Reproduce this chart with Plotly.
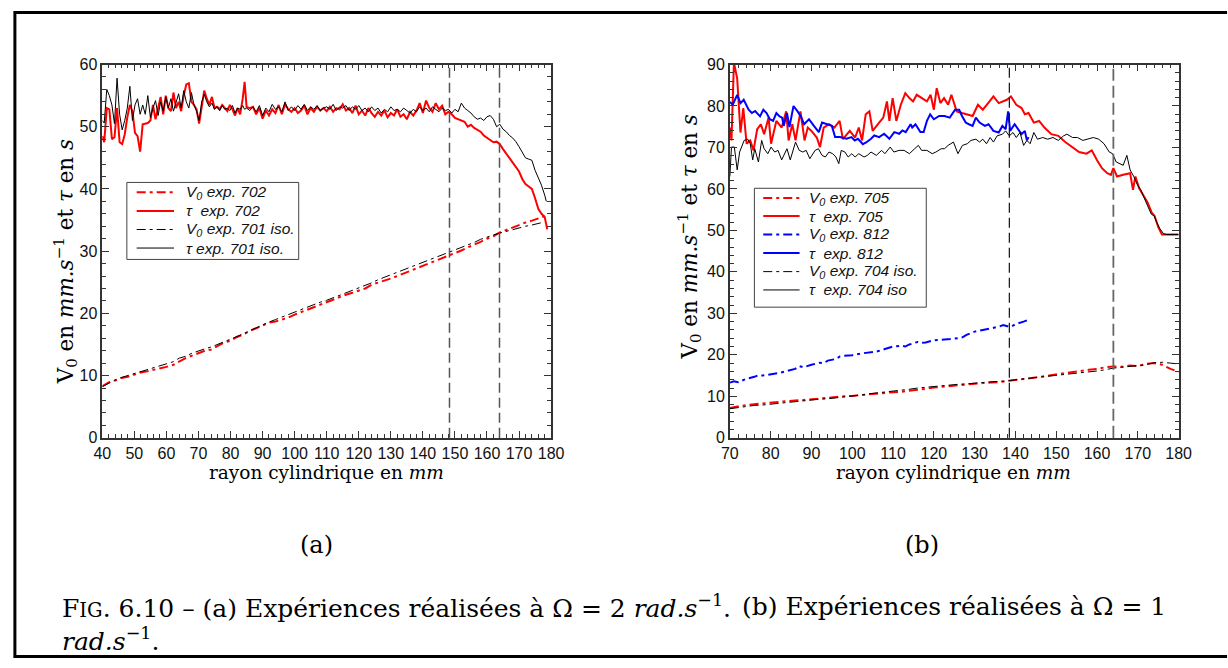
import plotly.graph_objects as go

W, H = 1228, 668

# ---------------- DATA : panel (a) ----------------
a_names = ["V<sub>0</sub> exp. 702", "τ  exp. 702", "V<sub>0</sub> exp. 701 iso.", "τ exp. 701 iso."]

a_tau702_x = [40.0, 40.6, 41.4, 42.2, 43.0, 43.8, 44.6, 45.4, 46.2, 47.0, 47.8, 48.6, 49.4, 50.2, 51.0, 51.8,
              52.6, 53.4, 54.2, 55.0, 55.8, 56.6, 57.4, 58.2, 59.0, 59.8, 60.6, 61.4, 62.2, 63.0, 63.8, 64.6,
              65.4, 66.2, 67.0, 67.8, 68.6, 69.4, 70.2, 71.0, 71.8, 72.6, 73.4, 74.2, 75.0, 75.8, 76.6, 77.4,
              78.2, 79.0, 79.8, 80.6, 81.4, 82.2, 83.0, 83.8, 84.4, 85.0, 86.0, 87.0, 88.0, 89.0, 90.0, 91.0,
              92.0, 93.0, 94.0, 95.0, 96.0, 97.0, 98.0, 99.0, 100.0, 101.0, 102.0, 103.0, 104.0, 105.0, 106.0,
              107.0, 108.0, 109.0, 110.0, 111.0, 112.0, 113.0, 114.0, 115.0, 116.0, 117.0, 118.0, 119.0, 120.0,
              121.0, 122.0, 123.0, 124.0, 125.0, 126.0, 127.0, 128.0, 129.0, 130.0, 131.0, 132.0, 133.0, 134.0,
              135.0, 136.0, 137.0, 138.0, 139.0, 140.0, 141.0, 142.0, 143.0, 144.0, 145.0, 146.0, 147.0, 148.0,
              149.0, 150.0, 151.0, 152.0, 153.0, 154.0, 155.0, 156.0, 157.0, 158.0, 159.0, 160.0, 161.0, 162.0,
              163.0, 164.0, 165.0, 166.0, 167.0, 168.0, 169.0, 170.0, 171.0, 172.0, 173.0, 174.0, 175.0, 176.0,
              177.0, 178.0, 178.8]
a_tau702_y = [48.5, 47.5, 53.0, 52.8, 48.0, 48.3, 53.0, 47.5, 47.2, 48.8, 51.5, 53.5, 52.5, 49.0, 48.5, 46.0,
              50.4, 50.5, 50.6, 51.0, 53.5, 51.2, 52.8, 54.8, 52.0, 55.0, 53.0, 52.5, 55.5, 53.0, 54.0, 52.5,
              55.0, 56.8, 57.0, 54.0, 53.5, 52.8, 50.5, 53.5, 55.8, 54.5, 53.5, 54.8, 53.0, 53.2, 52.8, 53.5,
              53.0, 52.5, 53.5, 52.8, 51.8, 53.0, 52.0, 54.5, 57.2, 53.2, 53.0, 53.2, 52.0, 53.0, 51.3, 52.6,
              51.8, 52.8, 52.2, 53.5, 52.0, 53.6, 52.8, 52.4, 53.0, 52.2, 52.6, 53.4, 52.0, 53.0, 52.4,
              53.2, 52.6, 53.0, 52.5, 53.2, 52.4, 53.0, 52.8, 53.6, 52.6, 53.0, 52.2, 53.4, 52.0,
              52.6, 51.8, 53.0, 52.2, 51.6, 52.4, 51.8, 52.6, 51.5, 52.2, 51.8, 52.8, 51.6, 52.0,
              51.2, 52.4, 51.8, 52.6, 53.8, 52.2, 54.2, 53.0, 52.4, 53.8, 52.8, 53.4, 52.0, 52.4,
              52.0, 51.4, 51.2, 51.0, 50.8, 50.0, 50.3, 49.8, 49.5, 49.2, 48.6, 48.2, 47.8, 47.5,
              47.6, 47.2, 46.4, 45.7, 45.0, 44.4, 43.6, 42.8, 41.6, 40.8, 40.4, 40.0, 38.5, 36.8,
              36.0, 35.5, 33.5]

a_tau701_x = [40.0, 40.6, 41.4, 42.2, 43.0, 43.8, 44.6, 45.4, 46.2, 47.0, 47.8, 48.6, 49.4, 50.2, 51.0, 51.8,
              52.6, 53.4, 54.2, 55.0, 55.8, 56.6, 57.4, 58.2, 59.0, 59.8, 60.6, 61.4, 62.2, 63.0, 63.8, 64.6,
              65.4, 66.2, 67.0, 67.8, 68.6, 69.4, 70.2, 71.0, 71.8, 72.6, 73.4, 74.2, 75.0, 75.8, 76.6, 77.4,
              78.2, 79.0, 79.8, 80.6, 81.4, 82.2, 83.0, 83.8, 84.4, 85.0, 86.0, 87.0, 88.0, 89.0, 90.0, 91.0,
              92.0, 93.0, 94.0, 95.0, 96.0, 97.0, 98.0, 99.0, 100.0, 101.0, 102.0, 103.0, 104.0, 105.0, 106.0,
              107.0, 108.0, 109.0, 110.0, 111.0, 112.0, 113.0, 114.0, 115.0, 116.0, 117.0, 118.0, 119.0, 120.0,
              121.0, 122.0, 123.0, 124.0, 125.0, 126.0, 127.0, 128.0, 129.0, 130.0, 131.0, 132.0, 133.0, 134.0,
              135.0, 136.0, 137.0, 138.0, 139.0, 140.0, 141.0, 142.0, 143.0, 144.0, 145.0, 146.0, 147.0, 148.0,
              149.0, 150.0, 151.0, 152.0, 153.0, 154.0, 155.0, 156.0, 157.0, 158.0, 159.0, 160.0, 161.0, 162.0,
              163.0, 164.0, 165.0, 166.0, 167.0, 168.0, 169.0, 170.0, 171.0, 172.0, 173.0, 174.0, 175.0, 176.0,
              177.0, 178.0, 178.5]
a_tau701_y = [51.0, 50.6, 56.0, 55.0, 53.5, 50.5, 57.8, 52.0, 49.5, 51.0, 53.0, 56.5, 51.0, 53.5, 54.5, 52.0,
              53.5, 52.0, 55.0, 51.5, 53.0, 54.2, 51.8, 54.0, 52.5, 54.8, 53.0, 54.5, 52.5, 54.0, 55.3, 53.0,
              55.8, 54.0, 53.0, 55.5, 53.5, 52.5, 51.0, 54.0, 55.2, 54.0, 53.2, 53.8, 52.8, 53.2, 52.6, 53.4,
              52.8, 53.0, 52.6, 53.4, 52.2, 53.0, 52.8, 53.4, 52.8, 53.0, 52.6, 53.2, 52.4, 53.4, 51.8, 53.0,
              52.4, 53.6, 52.8, 53.2, 52.4, 54.0, 52.6, 53.2, 52.6, 53.4, 52.8, 53.6, 52.6, 53.2, 52.8,
              53.4, 52.6, 53.0, 53.2, 52.8, 53.6, 52.6, 53.2, 53.0, 53.4, 52.6, 53.2, 52.8, 53.4,
              52.6, 53.0, 52.4, 53.2, 52.6, 53.0, 52.2, 52.8, 52.4, 53.2, 52.6, 52.8, 52.4, 53.0,
              52.6, 52.2, 52.8, 52.4, 53.2, 52.6, 53.0, 52.4, 53.2, 52.8, 52.4, 53.0, 52.6, 52.8,
              52.2, 52.8, 52.4, 53.8, 53.0, 52.6, 52.2, 51.6, 51.2, 51.4, 51.0, 51.6, 51.8, 51.2,
              50.0, 50.4, 49.6, 49.2, 48.6, 48.2, 47.6, 46.8, 46.0, 45.0, 44.8, 44.6, 43.0, 41.8,
              40.6, 39.0, 38.0]

a_v0_x = [40, 42, 44, 46, 48, 50, 52, 54, 56, 58, 60, 62, 64, 66, 68, 70, 72, 74, 76, 78, 80, 82, 84, 86,
          88, 90, 92, 94, 96, 98, 100, 102, 104, 106, 108, 110, 112, 114, 116, 118, 120, 122, 124, 126, 128,
          130, 132, 134, 136, 138, 140, 142, 144, 146, 148, 150, 152, 154, 156, 158, 160, 162, 164, 166, 168,
          170, 172, 174, 176, 178]
a_v0_702 = [8.3, 8.9, 9.2, 9.6, 9.8, 10.2, 10.5, 10.7, 10.9, 11.1, 11.4, 11.7, 12.3, 12.8, 13.2, 13.6, 14.0,
            14.2, 14.8, 15.3, 15.6, 16.2, 16.6, 17.2, 17.6, 18.1, 18.5, 18.7, 19.0, 19.3, 19.8, 20.2, 20.6,
            21.0, 21.4, 21.9, 22.3, 22.6, 23.0, 23.3, 23.6, 24.0, 24.6, 24.9, 25.2, 25.6, 26.0, 26.4, 26.9,
            27.2, 27.6, 28.0, 28.4, 28.8, 29.3, 29.7, 30.1, 30.6, 31.0, 31.5, 32.0, 32.4, 33.0, 33.4, 33.9,
            34.2, 34.6, 34.9, 35.2, 35.6]
a_v0_701 = [8.2, 8.8, 9.3, 9.7, 10.0, 10.3, 10.6, 10.9, 11.2, 11.6, 11.8, 12.2, 12.8, 13.1, 13.6, 14.0, 14.3,
            14.6, 15.0, 15.4, 15.8, 16.3, 16.7, 17.2, 17.7, 18.2, 18.6, 19.0, 19.4, 19.8, 20.2, 20.7, 21.1,
            21.4, 21.8, 22.1, 22.5, 22.9, 23.3, 23.6, 24.1, 24.5, 24.9, 25.4, 25.8, 26.1, 26.5, 27.0, 27.4,
            27.8, 28.2, 28.6, 29.0, 29.3, 29.7, 30.2, 30.6, 31.0, 31.4, 31.9, 32.3, 32.6, 32.9, 33.2, 33.5,
            33.8, 34.0, 34.2, 34.5, 34.7]
a_vlines = [148.3, 163.9]

# ---------------- DATA : panel (b) ----------------
b_names = ["V<sub>0</sub> exp. 705", "τ  exp. 705", "V<sub>0</sub> exp. 812", "τ  exp. 812",
           "V<sub>0</sub> exp. 704 iso.", "τ  exp. 704 iso"]

b_tau705_x = [70.0, 70.4, 71.0, 71.8, 72.6, 73.3, 74.1, 75.0, 75.8, 76.7, 77.6, 78.4, 79.5, 80.1, 81.4, 82.7,
              83.8, 84.4, 85.3, 86.1, 87.3, 88.3, 89.1, 90.0, 91.3, 92.1, 93.0, 94.3, 95.6, 96.9, 97.7, 98.6,
              99.4, 100.7, 101.6, 102.4, 103.3, 104.2, 105.0, 106.3, 107.6, 108.5, 109.1, 109.9, 110.8, 111.9,
              113.0, 114.0, 114.9, 115.8, 117.0, 118.3, 119.2, 120.0, 120.7, 121.6, 122.5, 123.5, 124.3, 125.6,
              126.9, 128.2, 129.5, 130.8, 132.0, 133.3, 134.6, 135.9, 136.8, 137.9, 138.9, 140.2, 141.5, 142.3,
              143.2, 144.5, 145.8, 147.1, 148.8, 150.5, 152.2, 153.9, 155.6, 157.4, 158.7, 160.0, 161.2, 162.5,
              163.4, 164.0, 164.9, 166.4, 168.1, 168.8, 169.4, 170.3, 171.5, 172.4, 173.4, 174.1, 175.0, 175.9,
              180.0]
b_tau705_y = [74.8, 71.7, 90.5, 86.6, 73.6, 79.5, 70.9, 71.7, 69.3, 74.4, 75.6, 73.2, 77.2, 70.9, 76.4, 74.8,
              78.7, 71.7, 75.6, 71.7, 78.7, 71.7, 74.8, 74.0, 72.4, 70.1, 74.8, 75.6, 74.8, 76.4, 72.0, 73.2,
              74.0, 72.4, 74.8, 71.7, 78.0, 78.7, 74.0, 75.6, 77.2, 81.1, 76.4, 81.9, 76.4, 80.3,
              83.1, 81.9, 81.1, 82.7, 81.9, 81.1, 82.7, 79.1, 84.3, 80.7, 81.9, 80.3, 82.7, 78.7,
              78.3, 78.0, 77.6, 80.3, 79.1, 80.7, 82.3, 80.7, 81.1, 81.5, 82.3, 80.3, 79.5, 78.0,
              78.3, 76.0, 76.4, 74.8, 73.2, 72.8, 71.3, 70.1, 68.9, 68.5, 69.3, 66.9, 65.0, 63.8,
              63.4, 65.0, 63.0, 63.4, 63.8, 59.8, 63.0, 60.2, 58.3, 56.7, 54.3, 53.5, 50.8, 49.0,
              49.0]

b_tau812_x = [70.0, 70.7, 71.8, 72.6, 73.4, 74.6, 75.4, 76.2, 77.4, 78.2, 79.0, 79.8, 80.6, 81.4, 82.2, 82.8,
              83.2, 84.0, 84.6, 85.6, 86.6, 87.4, 88.2, 89.4, 90.6, 91.8, 92.6, 93.8, 95.0, 95.8, 97.0, 98.6,
              99.8, 100.6, 101.4, 102.6, 103.4, 104.6, 105.4, 106.6, 107.8, 109.1, 110.3, 111.5, 112.3, 113.1,
              114.3, 114.7, 115.5, 116.7, 117.5, 118.3, 119.1, 120.0, 121.3, 122.6, 123.9, 125.2, 126.2, 126.9,
              127.8, 128.6, 129.5, 130.3, 131.2, 132.5, 133.4, 134.6, 135.9, 136.8, 137.6, 138.2, 138.7, 139.8,
              140.6, 141.5, 142.3, 142.8, 143.2]
b_tau812_y = [81.0, 80.3, 82.7, 80.7, 81.5, 79.1, 78.3, 78.8, 77.5, 79.1, 78.3, 76.8, 76.4, 78.3, 77.5, 77.2,
              75.2, 78.3, 74.9, 80.0, 78.7, 77.5, 75.6, 76.8, 75.2, 73.7, 76.0, 75.6, 75.2, 72.5, 72.5, 72.1,
              72.5, 71.7, 72.1, 70.8, 71.2, 72.1, 72.9, 72.5, 73.3, 72.1, 73.7, 73.3, 74.1, 73.7,
              75.6, 74.8, 75.6, 73.7, 73.7, 76.4, 78.0, 76.8, 77.6, 77.6, 77.2, 79.1, 79.1, 77.6,
              76.0, 75.6, 75.2, 77.2, 76.0, 75.2, 75.6, 74.0, 73.6, 75.2, 74.4, 78.7, 74.0, 75.6,
              74.4, 73.2, 74.0, 71.7, 72.5]

b_tau704_x = [70.0, 70.4, 71.1, 71.8, 72.4, 73.5, 74.4, 75.0, 75.6, 76.1, 77.0, 77.8, 78.4, 79.3, 80.1, 81.0,
              81.8, 82.7, 84.0, 84.8, 86.1, 87.0, 87.9, 88.7, 89.6, 90.9, 91.7, 92.6, 93.4, 94.3, 95.2, 96.0,
              96.7, 97.3, 98.2, 99.0, 99.9, 100.7, 101.6, 102.9, 103.7, 104.6, 105.9, 107.2, 108.0, 109.3,
              110.2, 111.5, 112.7, 114.0, 115.3, 116.2, 117.0, 118.3, 119.6, 120.5, 121.8, 122.6, 123.5, 124.8,
              125.9, 127.0, 128.2, 129.1, 130.3, 131.2, 132.0, 132.9, 133.8, 134.6, 135.5, 136.8, 137.6, 138.5,
              139.4, 140.2, 141.1, 142.0, 142.8, 143.6, 144.5, 145.4, 146.7, 147.9, 149.2, 150.5, 151.8, 152.6,
              154.0, 155.2, 156.5, 157.8, 159.1, 160.4, 161.7, 163.0, 163.8, 164.7, 165.6, 166.4, 167.3, 168.1,
              169.0, 169.9, 170.7, 171.6, 172.4, 173.3, 174.0, 174.6, 175.4, 176.3, 177.1, 180.0]
b_tau704_y = [63.0, 70.1, 70.1, 64.6, 68.9, 71.7, 72.0, 70.9, 67.0, 69.7, 66.5, 71.7, 69.7, 68.5, 70.1, 68.9,
              69.3, 67.0, 69.7, 67.0, 71.3, 69.3, 68.9, 69.3, 67.3, 69.3, 69.7, 68.1, 67.7, 68.9, 68.5, 67.7,
              66.1, 69.3, 68.9, 67.7, 68.5, 67.7, 68.5, 67.7, 68.1, 68.9, 68.1, 69.3, 68.5, 70.1,
              68.9, 69.3, 69.3, 68.5, 69.7, 70.5, 69.3, 69.3, 68.5, 68.9, 69.7, 69.7, 70.5, 71.3,
              68.5, 70.5, 70.9, 71.7, 72.0, 71.3, 72.0, 70.9, 72.4, 71.3, 72.8, 73.2, 74.0, 72.8,
              73.6, 72.4, 73.6, 70.5, 71.7, 70.9, 73.6, 72.0, 72.4, 72.0, 72.4, 71.7, 72.8, 73.2,
              72.4, 72.4, 71.7, 72.0, 72.4, 72.0, 70.9, 68.9, 68.5, 66.5, 66.1, 65.7, 68.1, 64.6,
              63.0, 61.0, 59.8, 57.5, 55.9, 53.9, 53.5, 52.0, 50.4, 49.2, 49.0, 49.0]

b_v0_812_x = [70, 71, 72, 74, 76, 77, 78, 80, 82, 84, 86, 87, 88, 90, 92, 93, 94, 96, 97, 98, 100, 102, 104,
              106, 108, 110, 112, 113, 114, 116, 117, 118, 120, 122, 124, 126, 127, 128, 130, 132, 134, 136,
              137, 138, 139, 140, 142, 143.5]
b_v0_812 = [13.3, 13.6, 13.4, 14.2, 14.7, 15.1, 15.0, 15.3, 15.6, 16.1, 16.6, 17.3, 17.0, 17.6, 18.1, 18.0,
            18.6, 19.0, 19.6, 19.8, 19.9, 20.3, 20.5, 20.8, 21.4, 22.0, 22.2, 22.0, 22.5, 23.1, 22.9, 23.0,
            23.5, 23.6, 23.8, 24.0, 24.2, 24.8, 25.6, 26.0, 26.4, 26.8, 27.2, 26.9, 26.8, 27.4, 28.0, 28.6]

b_v0_x = [70, 72, 74, 76, 78, 80, 82, 84, 86, 88, 90, 92, 94, 96, 98, 100, 102, 104, 106, 108, 110, 112, 114,
          116, 118, 120, 122, 124, 126, 128, 130, 132, 134, 136, 138, 140, 142, 144, 146, 148, 150, 152, 154,
          156, 158, 160, 162, 164, 166, 168, 170, 172, 174, 176, 178, 180]
b_v0_705 = [7.2, 7.6, 7.9, 8.1, 8.3, 8.4, 8.6, 8.8, 9.0, 9.1, 9.3, 9.5, 9.6, 9.8, 10.0, 10.1, 10.3, 10.5, 10.6,
            10.8, 11.0, 11.1, 11.3, 11.6, 11.8, 12.1, 12.3, 12.5, 12.7, 12.9, 13.0, 13.2, 13.3, 13.4, 13.7,
            13.9, 14.1, 14.4, 14.7, 15.0, 15.2, 15.5, 15.8, 16.2, 16.4, 16.6, 17.0, 17.2, 17.1, 17.4, 17.3,
            17.8, 18.0, 17.6, 16.6, 15.9]
b_v0_704 = [7.0, 7.3, 7.6, 7.8, 7.9, 8.1, 8.3, 8.6, 8.8, 9.0, 9.1, 9.3, 9.4, 9.6, 9.8, 10.1, 10.3, 10.6, 10.8,
            11.1, 11.3, 11.5, 11.7, 12.0, 12.2, 12.4, 12.6, 12.8, 12.9, 13.0, 13.2, 13.3, 13.5, 13.6, 13.7,
            14.0, 14.2, 14.4, 14.6, 14.8, 15.0, 15.2, 15.4, 15.6, 15.8, 16.1, 16.4, 16.8, 17.0, 17.2, 17.3,
            17.6, 18.1, 18.2, 18.0, 17.8]
b_vlines = [138.5, 164.0]

# ---------------- helpers ----------------
def px(x):
    return x / W

def py(y):
    return 1 - y / H

RED, BLUE, BLACK = "#ff0000", "#0000ff", "#000000"
DASHDOT = "9px,4px,3px,4px"

fig = go.Figure()
legend_rows = {"a": [], "b": []}

def add(x, y, name, color, width, dash, xa, ya, panel):
    fig.add_trace(go.Scatter(x=x, y=y, name=name, mode="lines", showlegend=False,
                             line=dict(color=color, width=width, dash=dash),
                             xaxis=xa, yaxis=ya))
    legend_rows[panel].append((name, color, width, dash))

# panel (a)
add(a_v0_x, a_v0_702, a_names[0], RED, 2, DASHDOT, "x", "y", "a")
add(a_tau702_x, a_tau702_y, a_names[1], RED, 2, "solid", "x", "y", "a")
add(a_v0_x, a_v0_701, a_names[2], BLACK, 1, DASHDOT, "x", "y", "a")
add(a_tau701_x, a_tau701_y, a_names[3], BLACK, 1, "solid", "x", "y", "a")

# panel (b)
add(b_v0_x, b_v0_705, b_names[0], RED, 2, DASHDOT, "x2", "y2", "b")
add(b_tau705_x, b_tau705_y, b_names[1], RED, 2, "solid", "x2", "y2", "b")
add(b_v0_812_x, b_v0_812, b_names[2], BLUE, 2, DASHDOT, "x2", "y2", "b")
add(b_tau812_x, b_tau812_y, b_names[3], BLUE, 2, "solid", "x2", "y2", "b")
add(b_v0_x, b_v0_704, b_names[4], BLACK, 1, DASHDOT, "x2", "y2", "b")
add(b_tau704_x, b_tau704_y, b_names[5], BLACK, 1, "solid", "x2", "y2", "b")

AX = dict(showline=True, linecolor="#333", linewidth=1.5, mirror="allticks", ticks="inside",
          ticklen=7, tickwidth=1.2, tickcolor="#333", showgrid=False, zeroline=False, dtick=10,
          tickfont=dict(family="Liberation Sans, Arial", size=16, color="#111"),
          minor=dict(ticks="inside", ticklen=4, tickwidth=1, tickcolor="#333", dtick=2, showgrid=False))

fig.update_layout(
    width=W, height=H, margin=dict(l=0, r=0, t=0, b=0),
    paper_bgcolor="white", plot_bgcolor="white", showlegend=False,
    xaxis=dict(AX, domain=[px(95), px(552)], range=[40, 180], anchor="y"),
    yaxis=dict(AX, domain=[py(441), py(58)], range=[0, 60], anchor="x"),
    xaxis2=dict(AX, domain=[px(734), px(1191)], range=[70, 180], anchor="y2"),
    yaxis2=dict(AX, domain=[py(441), py(58)], range=[0, 90], anchor="x2"),
)

# vertical dashed marker lines
for v in a_vlines:
    fig.add_shape(type="line", xref="x", yref="y domain", x0=v, x1=v, y0=0, y1=1,
                  line=dict(color="#555", width=1.5, dash="10px,5px"))
fig.add_shape(type="line", xref="x2", yref="y2 domain", x0=b_vlines[0], x1=b_vlines[0], y0=0, y1=1,
              line=dict(color="#111", width=1.2, dash="10px,5px"))
fig.add_shape(type="line", xref="x2", yref="y2 domain", x0=b_vlines[1], x1=b_vlines[1], y0=0, y1=1,
              line=dict(color="#666", width=1.8, dash="12px,5px"))

# legends (boxed key, one row per series)
def legend_box(rows, box, row_y, line_x, text_x):
    x0, y0, x1, y1 = box
    fig.add_shape(type="rect", xref="paper", yref="paper", x0=px(x0), x1=px(x1), y0=py(y1), y1=py(y0),
                  line=dict(color="#444", width=1), fillcolor="white", layer="above")
    for (name, color, width, dash), ry in zip(rows, row_y):
        fig.add_shape(type="line", xref="paper", yref="paper", x0=px(line_x[0]), x1=px(line_x[1]),
                      y0=py(ry), y1=py(ry), line=dict(color=color, width=width, dash=dash), layer="above")
        fig.add_annotation(text="<i>" + name + "</i>", xref="paper", yref="paper", x=px(text_x), y=py(ry),
                           showarrow=False, xanchor="left", yanchor="middle",
                           font=dict(family="Liberation Sans, Arial", size=15.5, color="#111"))

legend_box(legend_rows["a"], (120, 179, 295, 258), [189, 208.3, 227.3, 246.3], (130, 168), 178)
legend_box(legend_rows["b"], (759, 185, 934, 307), [195, 213.5, 232.5, 251.5, 270.5, 289.3], (768, 805), 813)

# page frame
FR = dict(color="black", width=3)
fig.add_shape(type="line", xref="paper", yref="paper", x0=px(6), x1=px(6), y0=py(3), y1=py(667), line=FR)
fig.add_shape(type="line", xref="paper", yref="paper", x0=px(5), x1=1.01, y0=py(4.5), y1=py(4.5), line=FR)
fig.add_shape(type="line", xref="paper", yref="paper", x0=px(5), x1=1.01, y0=py(665.5), y1=py(665.5), line=FR)

SERIF = "DejaVu Serif, Liberation Serif, serif"

def note(text, x, y, size, xanchor="center", angle=0):
    fig.add_annotation(text=text, xref="paper", yref="paper", x=px(x), y=py(y), showarrow=False,
                       xanchor=xanchor, yanchor="middle", textangle=angle,
                       font=dict(family=SERIF, size=size, color="black"))

ytitle = "V<sub>0</sub> en <i>mm.s</i><sup>−1</sup> et <i>τ</i> en <i>s</i>"
xtitle = "rayon cylindrique en <i>mm</i>"
note(xtitle, 323, 477, 18.5)
note(xtitle, 962, 477, 18.5)
note(ytitle, 58, 260, 21.5, angle=-90)
note(ytitle, 693, 235, 21.5, angle=-90)
note("(a)", 313, 551, 24)
note("(b)", 930, 551, 24)
note("F<span style='font-size:19.5px'>IG</span>. 6.10 – (a) Expériences réalisées à Ω = 2 <i>rad.s</i><sup>−1</sup>.",
     52, 614, 25, xanchor="left")
note("(b) Expériences réalisées à Ω = 1", 1180, 614, 25, xanchor="right")
note("<i>rad.s</i><sup>−1</sup>.", 52, 648, 25, xanchor="left")

post = """
document.documentElement.style.margin='0';
document.body.style.margin='0';
document.body.style.overflow='hidden';
"""

fig.write_html("out.html", config={"displayModeBar": False}, post_script=post)
